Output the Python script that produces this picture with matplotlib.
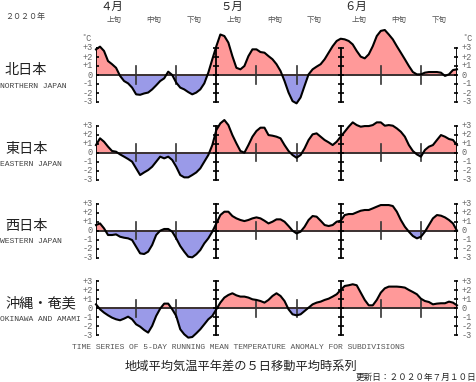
import numpy as np
import matplotlib
matplotlib.use("Agg")
import matplotlib.pyplot as plt

# ---------------- data (day 0 = Apr 1 ... day 90 = Jun 30) ----------------
regions_ja = ["北日本", "東日本", "西日本", "沖縄・奄美"]
regions_en = ["NORTHERN JAPAN", "EASTERN JAPAN", "WESTERN JAPAN", "OKINAWA AND AMAMI"]

north = [2.85, 3.15, 2.67, 1.55, 1.2, 0.8, -0.1, -0.67, -0.93, -1.4,
         -2.15, -2.2, -2.05, -1.95, -1.6, -1.15, -0.67, -0.37, 0.37, 0.0,
         -0.85, -1.4, -1.6, -1.9, -2.15, -1.95, -1.6, -0.93, 0.26, 1.75,
         3.2, 4.5, 4.33, 3.6, 2.1, 0.8, 0.63, 1.0, 2.1, 2.85,
         2.85, 2.55, 2.48, 2.1, 1.75, 1.2, 0.45, -0.67, -1.95, -2.9,
         -3.15, -2.5, -1.2, 0.07, 0.63, 0.93, 1.2, 1.75, 2.48, 3.2,
         3.78, 4.03, 3.96, 3.78, 3.4, 2.67, 2.04, 1.85, 2.3, 3.2,
         4.33, 4.9, 5.0, 4.5, 3.96, 3.2, 2.48, 1.75, 1.0, 0.33,
         0.07, 0.07, 0.26, 0.33, 0.33, 0.33, 0.26, -0.1, 0.07, 0.55, 0.63]

east = [0.85, 1.6, 1.22, 0.67, 0.19, 0.11, -0.19, -0.44, -0.7, -1.0,
        -1.74, -2.48, -2.19, -1.93, -1.56, -1.0, -0.44, -0.63, -0.44, -0.81,
        -1.56, -2.48, -2.74, -2.74, -2.48, -2.19, -1.74, -1.0, -0.26, 0.85,
        2.52, 3.26, 3.63, 3.07, 1.96, 1.04, 0.19, 0.0, 0.85, 1.78,
        2.41, 2.78, 2.78, 1.96, 1.89, 1.78, 1.6, 0.85, 0.19, -0.26,
        -0.56, -0.26, 0.48, 1.41, 2.04, 2.15, 1.78, 1.41, 1.15, 0.85,
        1.22, 1.78, 2.33, 2.89, 3.37, 3.07, 2.89, 2.96, 2.96, 3.07,
        3.37, 3.37, 3.0, 3.07, 3.0, 2.7, 2.33, 1.78, 0.85, 0.19,
        -0.19, -0.44, 0.3, 0.67, 0.85, 1.41, 1.96, 1.78, 1.52, 1.41, 0.85]

west = [0.63, 0.81, 0.26, -0.48, -0.48, -0.41, -0.67, -0.78, -0.85, -1.04,
        -1.78, -2.52, -2.59, -2.33, -1.59, -0.48, 0.0, 0.19, 0.19, -0.11,
        -0.85, -1.7, -2.33, -2.89, -2.96, -2.63, -2.15, -1.41, -0.85, -0.11,
        0.81, 1.74, 2.11, 2.11, 1.63, 1.37, 1.19, 1.07, 1.19, 1.37,
        1.48, 1.37, 1.11, 0.81, 1.0, 1.26, 1.26, 1.0, 0.52, 0.0,
        -0.3, -0.11, 0.44, 1.19, 1.63, 1.56, 1.11, 0.63, 0.52, 0.63,
        1.0, 1.11, 1.74, 1.85, 1.85, 2.04, 2.22, 2.3, 2.3, 2.48,
        2.67, 2.85, 2.85, 2.85, 2.74, 2.11, 1.19, 0.44, -0.11, -0.59,
        -0.85, -0.67, -0.11, 0.63, 1.37, 1.74, 1.67, 1.48, 1.19, 0.81, 0.0]

okinawa = [0.44, -0.11, -0.48, -0.78, -1.04, -1.22, -1.33, -1.15, -0.93, -1.22,
           -1.78, -2.04, -2.41, -2.7, -1.96, -0.85, -0.04, 0.52, 0.52, -0.11,
           -0.85, -2.33, -2.89, -3.26, -3.19, -2.78, -2.33, -1.78, -1.22, -0.85,
           -0.11, 0.63, 1.19, 1.48, 1.67, 1.44, 1.3, 1.3, 1.19, 1.0,
           0.93, 0.81, 0.63, 0.93, 1.37, 1.67, 1.37, 0.81, -0.11, -0.67,
           -0.78, -0.67, -0.3, 0.07, 0.44, 0.63, 0.74, 0.93, 1.07, 1.3,
           1.56, 2.04, 2.48, 2.56, 2.67, 2.56, 1.74, 0.93, 0.33, 0.33,
           0.93, 1.74, 2.22, 2.41, 2.41, 2.41, 2.37, 2.3, 2.04, 1.81,
           1.56, 1.07, 0.81, 0.7, 0.44, 0.52, 0.56, 0.56, 0.74, 0.63, 0.33]

series = [north, east, west, okinawa]

month_labels = ["４月", "５月", "６月"]
month_start = [0, 30, 61]
month_end = 90
dekad_labels = ["上旬", "中旬", "下旬"]
dekad_ticks = [10, 20, 40, 50, 71, 81]
ytick_vals = [3, 2, 1, 0, -1, -2, -3]
ytick_text = ["+3", "+2", "+1", "0", "-1", "-2", "-3"]

# ---------------- style ----------------
W, H = 476, 382
JP = ["Noto Sans CJK JP", "DejaVu Sans"]
MONO = ["Liberation Mono", "DejaVu Sans Mono"]
POS = "#ff9999"
NEG = "#9a9ae8"

fig = plt.figure(figsize=(W / 100, H / 100), dpi=100)
fig.patch.set_facecolor("white")

def fx(px):
    return px / W

def fy(py):
    return 1 - py / H

x_left, x_right = 96, 457
px_per_deg = 9.0
zeros = [75, 152.7, 230.7, 308.3]
ylo, yhi = -4.5, 5.5

axes = []
for i, (vals, z) in enumerate(zip(series, zeros)):
    bottom_px = z + (-ylo) * px_per_deg
    ax = fig.add_axes([fx(x_left), fy(bottom_px), fx(x_right) - fx(x_left),
                       (yhi - ylo) * px_per_deg / H])
    ax.set_xlim(0, 90)
    ax.set_ylim(ylo, yhi)
    ax.axis("off")
    ax.patch.set_alpha(0)
    d = np.arange(len(vals))
    v = np.array(vals)
    ax.fill_between(d, v, 0, where=v >= 0, interpolate=True, color=POS, lw=0, zorder=1)
    ax.fill_between(d, v, 0, where=v <= 0, interpolate=True, color=NEG, lw=0, zorder=1)
    ax.plot([0, 90], [0, 0], color="#3a3030", lw=1.4, zorder=2)
    # dekad ticks
    for t in dekad_ticks:
        ax.plot([t, t], [-0.95, 0.95], color="#333333", lw=1.2, zorder=3)
    # vertical month axes
    for t in month_start + [month_end]:
        ax.plot([t, t], [-3, 3], color="black", lw=1.3, zorder=4)
        ax.plot([t] * len(ytick_vals), ytick_vals, ls="none", marker="_",
                ms=5, mew=1.2, color="black", zorder=4)
    ax.plot(d, v, color="black", lw=1.5, zorder=5, clip_on=False)
    # y labels
    for yv, yt in zip(ytick_vals, ytick_text):
        ax.text(-0.9, yv, yt, ha="right", va="center", fontsize=6.2,
                family=MONO, color="#666666")
        ax.text(91.2, yv, yt, ha="left", va="center", fontsize=6.2,
                family=MONO, color="#666666")
    if i == 0:
        ax.text(-1.2, 4.1, "˚C", ha="right", va="center", fontsize=6.2,
                family=MONO, color="#666666")
        ax.text(91.4, 4.1, "˚C", ha="left", va="center", fontsize=6.2,
                family=MONO, color="#666666")
    axes.append(ax)

# region labels
ja_y = [70, 148.5, 226, 303]
en_y = [86, 164, 242, 319.5]
for ja, en, yj, ye in zip(regions_ja, regions_en, ja_y, en_y):
    fig.text(fx(5), fy(yj), ja, ha="left", va="center", fontsize=10.2,
             family=JP, color="#222222")
    fig.text(fx(0.5), fy(ye), en, ha="left", va="center", fontsize=5.8,
             family=MONO, color="#444444")

# month and dekad labels using the top axes x scale
import matplotlib.transforms as mtransforms
ax0 = axes[0]
trans = mtransforms.blended_transform_factory(ax0.transData, fig.transFigure)
for m, ms in zip(month_labels, month_start):
    ax0.text(ms + 1.0, fy(6.5), m, transform=trans, ha="left", va="center",
             fontsize=8.2, family=JP, color="#222222")
    for k, dl in enumerate(dekad_labels):
        ax0.text(ms + 4.5 + 10 * k, fy(20), dl, transform=trans, ha="center",
                 va="center", fontsize=5.4, family=JP, color="#555555")

fig.text(fx(25), fy(16), "２０２０年", ha="center", va="center", fontsize=5.8,
         family=JP, color="#444444")

fig.text(fx(238), fy(347.5),
         "TIME SERIES OF 5-DAY RUNNING MEAN TEMPERATURE ANOMALY FOR SUBDIVISIONS",
         ha="center", va="center", fontsize=5.8, family=MONO, color="#555555")
fig.text(fx(240.5), fy(366), "地域平均気温平年差の５日移動平均時系列",
         ha="center", va="center", fontsize=8.8, family=JP, color="#222222")
fig.text(fx(476), fy(377.5), "更新日：２０２０年７月１０日",
         ha="right", va="center", fontsize=6.2, family=JP, color="#222222")

fig.savefig("out.png", dpi=100, facecolor="white")
